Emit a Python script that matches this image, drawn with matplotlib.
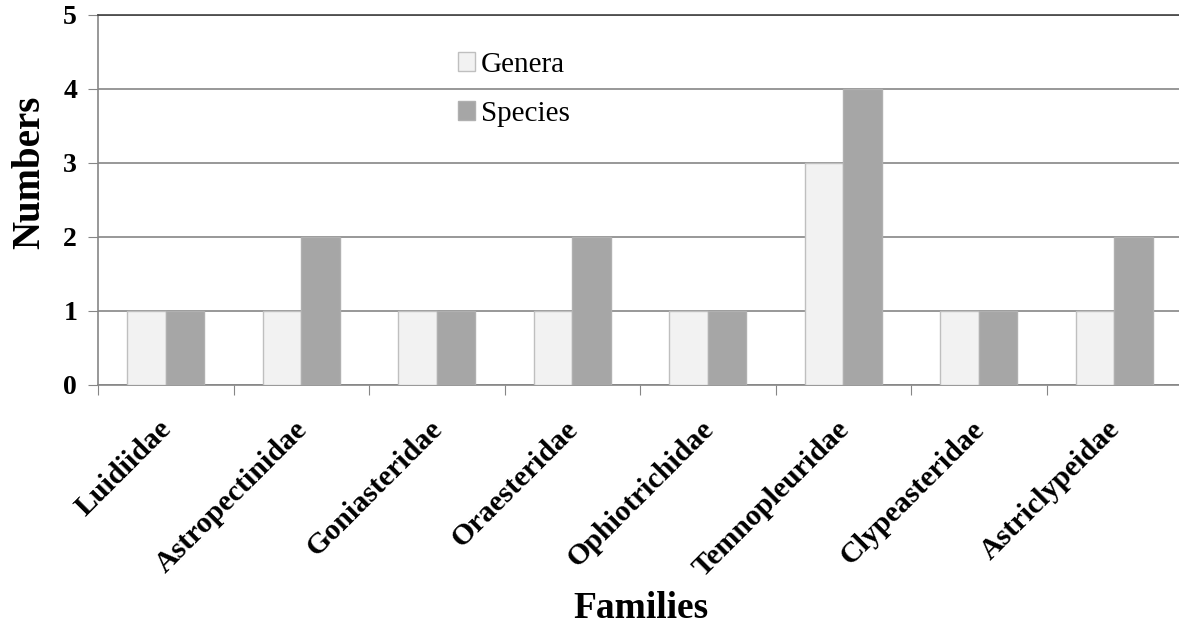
import matplotlib.pyplot as plt
import matplotlib.transforms as mtransforms
import numpy as np

# data
families = ['Luidiidae', 'Astropectinidae', 'Goniasteridae', 'Oraesteridae',
            'Ophiotrichidae', 'Temnopleuridae', 'Clypeasteridae', 'Astriclypeidae']
genera = [1, 1, 1, 1, 1, 3, 1, 1]
species = [1, 2, 1, 2, 1, 4, 1, 2]

plt.rcParams['font.family'] = ['Liberation Serif', 'DejaVu Serif']

fig = plt.figure(figsize=(11.79, 6.27), dpi=100)
ax0 = fig.add_axes([98/1179, 1-385/627, (1182-98)/1179, (385-15)/627])

x = np.arange(len(families)) + 0.5
w = 0.285
ax0.bar(x - w/2, genera, width=w, color='#F2F2F2', edgecolor='#BFBFBF', linewidth=1, label='Genera', zorder=3)
ax0.bar(x + w/2, species, width=w, color='#A6A6A6', edgecolor='#B0B0B0', linewidth=1, label='Species', zorder=3)

ax0.set_xlim(0, len(families))
ax0.set_ylim(0, 5)

#grid
ax0.yaxis.grid(True, color='#868686', linewidth=1.2, zorder=0)
ax0.set_axisbelow(True)
ax0.spines['right'].set_visible(False)
ax0.spines['top'].set_color('#404040')
ax0.spines['top'].set_linewidth(1.2)
for s in ['left', 'bottom']:
    ax0.spines[s].set_color('#868686')
    ax0.spines[s].set_linewidth(1.2)

#ticks
ax0.set_xticks(np.arange(len(families) + 1))
ax0.set_xticklabels([])
ax0.set_xticks(x, minor=True)
ax0.set_xticklabels(families, minor=True, rotation=45, ha='right', rotation_mode='anchor',
                    fontsize=21.5, fontweight='bold')
ax0.tick_params(axis='x', which='minor', length=0, pad=22)
ax0.tick_params(axis='x', which='major', length=7, color='#868686', direction='out')
ax0.set_yticks(range(6))
ax0.set_yticklabels([str(i) for i in range(6)], fontsize=20, fontweight='bold')
ax0.tick_params(axis='y', length=7, color='#868686', pad=8)

# category labels end right at the category centre
off = mtransforms.ScaledTranslation(-0.08, 0, fig.dpi_scale_trans)
for lab in ax0.get_xticklabels(minor=True):
    lab.set_transform(lab.get_transform() + off)

fig.text(30/1179, 1-172/627, 'Numbers', fontsize=28, fontweight='bold', rotation=90,
         ha='center', va='center')
# axis title centred under the plot area
fig.text(641/1179, 1-609/627, 'Families', fontsize=27, fontweight='bold', ha='center', va='center')

ax0.legend(loc='upper left', bbox_to_anchor=((443-98)/1084, 1-22/370), frameon=False,
           fontsize=21, handlelength=0.6, handleheight=0.6, handletextpad=0.2, labelspacing=0.8,
           borderpad=0)

plt.savefig('out.png', dpi=100)
